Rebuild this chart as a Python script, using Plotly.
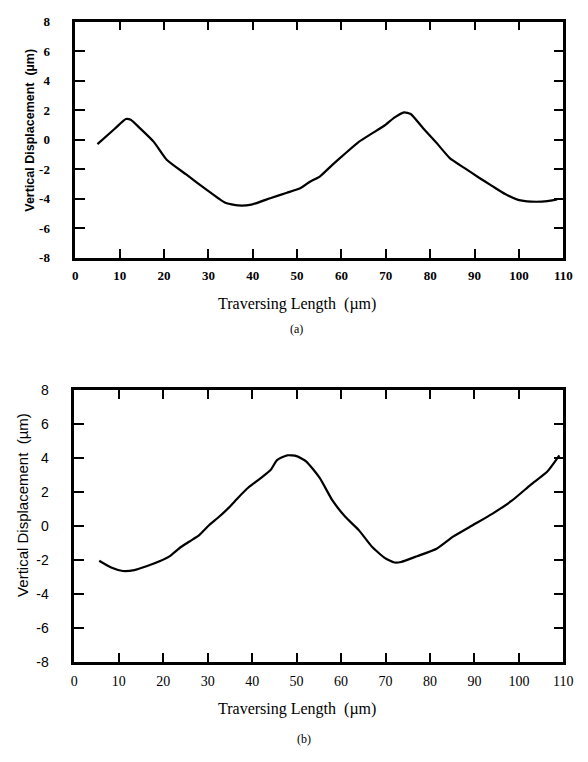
import plotly.graph_objects as go

# Panel (a)
xa = [5, 8.9, 11.4, 12.5, 14.5, 17.7, 20.6, 25, 29.4, 33.8, 36.7, 39.7, 44.1, 47.7,
      50.7, 52.9, 55.1, 58, 60.9, 63.9, 66.8, 69.7, 71.9, 74.1, 75.6, 78.5, 81.5,
      84.4, 88.1, 91, 93.9, 96.9, 99.8, 102.7, 106.4, 108.6]
ya = [-0.3, 0.74, 1.4, 1.35, 0.8, -0.15, -1.36, -2.36, -3.35, -4.28, -4.46, -4.4, -3.95, -3.6,
      -3.3, -2.85, -2.5, -1.69, -0.92, -0.15, 0.41, 0.96, 1.5, 1.85, 1.74, 0.74, -0.25,
      -1.25, -2.0, -2.58, -3.13, -3.69, -4.08, -4.2, -4.17, -4.05]

# Panel (b)
xb = [5.6, 8.3, 10.9, 13.5, 16.4, 19.3, 21.5, 23.7, 25.9, 28.1, 30.3, 32.5, 34.7, 36.9,
      39.1, 42, 44.2, 45.6, 47.9, 50, 52.2, 55.2, 58.1, 61, 64, 66.9, 69.8, 72, 73.5,
      77.1, 81.5, 85.2, 89.6, 94, 98.4, 102.7, 106.4, 109.1]
yb = [-2.05, -2.45, -2.65, -2.6, -2.36, -2.07, -1.78, -1.3, -0.92, -0.54, 0.04, 0.52, 1.06, 1.67,
      2.24, 2.82, 3.3, 3.87, 4.15, 4.1, 3.78, 2.82, 1.48, 0.52, -0.25, -1.21, -1.88, -2.15, -2.12,
      -1.78, -1.34, -0.63, 0.04, 0.71, 1.48, 2.43, 3.2, 4.15]

x_ticks = [0, 10, 20, 30, 40, 50, 60, 70, 80, 90, 100, 110]
y_ticks = [-8, -6, -4, -2, 0, 2, 4, 6, 8]

W, H = 588, 762
SERIF = "'Times New Roman', 'Liberation Serif', 'DejaVu Serif', serif"
SANS = "Liberation Sans"

fig = go.Figure()
fig.add_trace(go.Scatter(x=xa, y=ya, mode="lines", line=dict(color="black", width=2.2, shape="spline", smoothing=0.5),
                         xaxis="x", yaxis="y", showlegend=False))
fig.add_trace(go.Scatter(x=xb, y=yb, mode="lines", line=dict(color="black", width=2.2, shape="spline", smoothing=0.5),
                         xaxis="x2", yaxis="y2", showlegend=False))

def xax(domain, anchor, font, bold):
    fmt = "<b>{}</b>" if bold else "{}"
    return dict(domain=domain, anchor=anchor, range=[0, 110], tickvals=x_ticks,
                ticktext=[fmt.format(v) for v in x_ticks], ticks="inside", ticklen=9, tickwidth=2,
                tickcolor="black", showline=True, linewidth=2.5, linecolor="black", mirror="ticks",
                showgrid=False, zeroline=False, tickfont=font, ticklabelstandoff=4)

def yax(domain, anchor, font, bold):
    fmt = "<b>{}</b>" if bold else "{}"
    return dict(domain=domain, anchor=anchor, range=[-8, 8], tickvals=y_ticks,
                ticktext=[fmt.format(v) for v in y_ticks],
                ticks="inside", ticklen=10, tickwidth=2, tickcolor="black", showline=True,
                linewidth=2.5, linecolor="black", mirror="ticks", showgrid=False, zeroline=False,
                tickfont=font, ticklabelstandoff=20)

fa = dict(family=SERIF, size=13, color="black")
fb_x = dict(family=SERIF, size=14, color="black")
fb_y = dict(family=SANS, size=14, color="black")

fig.update_layout(
    width=W, height=H, margin=dict(l=0, r=0, t=0, b=0),
    paper_bgcolor="white", plot_bgcolor="white",
    xaxis=xax([73 / W, 573 / W], "y", fa, True),
    yaxis=yax([1 - 255 / H, 1 - 14 / H], "x", fa, True),
    xaxis2=xax([72 / W, 573 / W], "y2", fb_x, False),
    yaxis2=yax([1 - 668 / H, 1 - 390 / H], "x2", fb_y, False),
)

def ann(text, x, y, font, angle=0):
    fig.add_annotation(text=text, x=x / W, y=1 - y / H, xref="paper", yref="paper",
                       showarrow=False, textangle=angle, font=font, xanchor="center", yanchor="middle")

ann("<b>Vertical Displacement  (µm)</b>", 27, 125, dict(family=SANS, size=12.5, color="black"), -90)
ann("Traversing Length  (µm)", 300, 302, dict(family=SERIF, size=16, color="black"))
ann("(a)", 300, 328, dict(family=SERIF, size=12, color="black"))

ann("Vertical Displacement  (µm)", 19, 508, dict(family=SANS, size=15, color="black"), -90)
ann("Traversing Length  (µm)", 300, 716, dict(family=SERIF, size=16, color="black"))
ann("(b)", 307, 747, dict(family=SERIF, size=12, color="black"))

fig.write_html("out.html")
